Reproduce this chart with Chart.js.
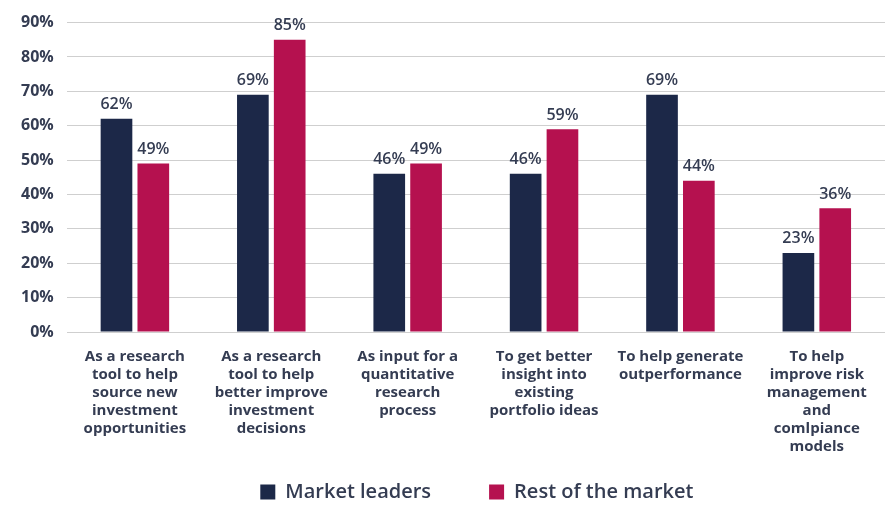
<!DOCTYPE html>
<html>
<head>
<meta charset="utf-8">
<script src="https://cdn.jsdelivr.net/npm/chart.js@4"></script>
<style>
  html, body { margin: 0; padding: 0; background: #fff; }
  #wrap { width: 891px; height: 505px; }
</style>
</head>
<body>
<div id="wrap"><canvas id="barChart"></canvas></div>
<script>
const categories = [
  ['As a research', 'tool to help', 'source new', 'investment', 'opportunities'],
  ['As a research', 'tool to help', 'better improve', 'investment', 'decisions'],
  ['As input for a', 'quantitative', 'research', 'process'],
  ['To get better', 'insight into', 'existing', 'portfolio ideas'],
  ['To help generate', 'outperformance'],
  ['To help', 'improve risk', 'management', 'and', 'comlpiance', 'models']
]
const marketLeaders = [62, 69, 46, 46, 69, 23]
const restOfMarket = [49, 85, 49, 59, 44, 36]
const yTicks = [0, 10, 20, 30, 40, 50, 60, 70, 80, 90]

const navy = '#1c2848'
const berry = '#b5114f'
const textColor = '#343c52'
const legendGap = 58

// value labels on top of each bar
const valueLabels = {
  id: 'valueLabels',
  afterDatasetsDraw(chart) {
    const ctx = chart.ctx
    ctx.save()
    ctx.font = '600 16px "Open Sans"'
    ctx.fillStyle = textColor
    ctx.textAlign = 'center'
    ctx.textBaseline = 'bottom'
    chart.data.datasets.forEach((ds, i) => {
      chart.getDatasetMeta(i).data.forEach((bar, j) => {
        ctx.fillText(ds.data[j] + '%', bar.x, bar.y - 6)
      })
    })
    ctx.restore()
  }
}

// the legend uses a wide item gap (padding), which also pushes the
// items down; move its box up so the row sits near the bottom edge
// and centre it under the plot area
const legendShift = {
  id: 'legendShift',
  afterLayout(chart) {
    const lg = chart.legend
    const rowTop = chart.height - 23
    lg.top = rowTop - legendGap
    lg.bottom = chart.height
    lg.height = lg.bottom - lg.top
    const dx = (chart.chartArea.left + chart.chartArea.right) / 2 - chart.width / 2
    lg.left += dx; lg.right += dx
  }
}

const ctx = document.getElementById('barChart').getContext('2d')
new Chart(ctx, {
  type: 'bar',
  data: {
    labels: categories,
    datasets: [
      { label: 'Market leaders', data: marketLeaders, backgroundColor: navy },
      { label: 'Rest of the market', data: restOfMarket, backgroundColor: berry }
    ]
  },
  options: {
    responsive: true,
    maintainAspectRatio: false,
    animation: false,
    categoryPercentage: 0.54,
    barPercentage: 0.86,
    layout: { padding: { left: 8, right: 6, top: 13, bottom: 0 } },
    plugins: {
      tooltip: { enabled: false },
      legend: {
        position: 'bottom',
        maxHeight: 41,
        labels: {
          color: textColor,
          font: { family: 'Open Sans', size: 20, weight: '600' },
          boxWidth: 15,
          boxHeight: 15,
          padding: legendGap
        }
      }
    },
    scales: {
      x: {
        grid: { display: false },
        border: { display: false },
        ticks: {
          color: textColor,
          font: { family: 'Open Sans', size: 15, weight: 'bold', lineHeight: 1.2 },
          maxRotation: 0,
          autoSkip: false,
          padding: 8
        }
      },
      y: {
        min: 0,
        max: 90,
        afterBuildTicks: axis => { axis.ticks = yTicks.map(v => ({ value: v })) },
        grid: { color: '#cfcfcf', lineWidth: 1, drawTicks: false },
        border: { display: false },
        ticks: {
          color: textColor,
          font: { family: 'Open Sans', size: 16, weight: 'bold' },
          padding: 13,
          callback: v => v + '%'
        }
      }
    }
  },
  plugins: [valueLabels, legendShift]
})
</script>
</body>
</html>
